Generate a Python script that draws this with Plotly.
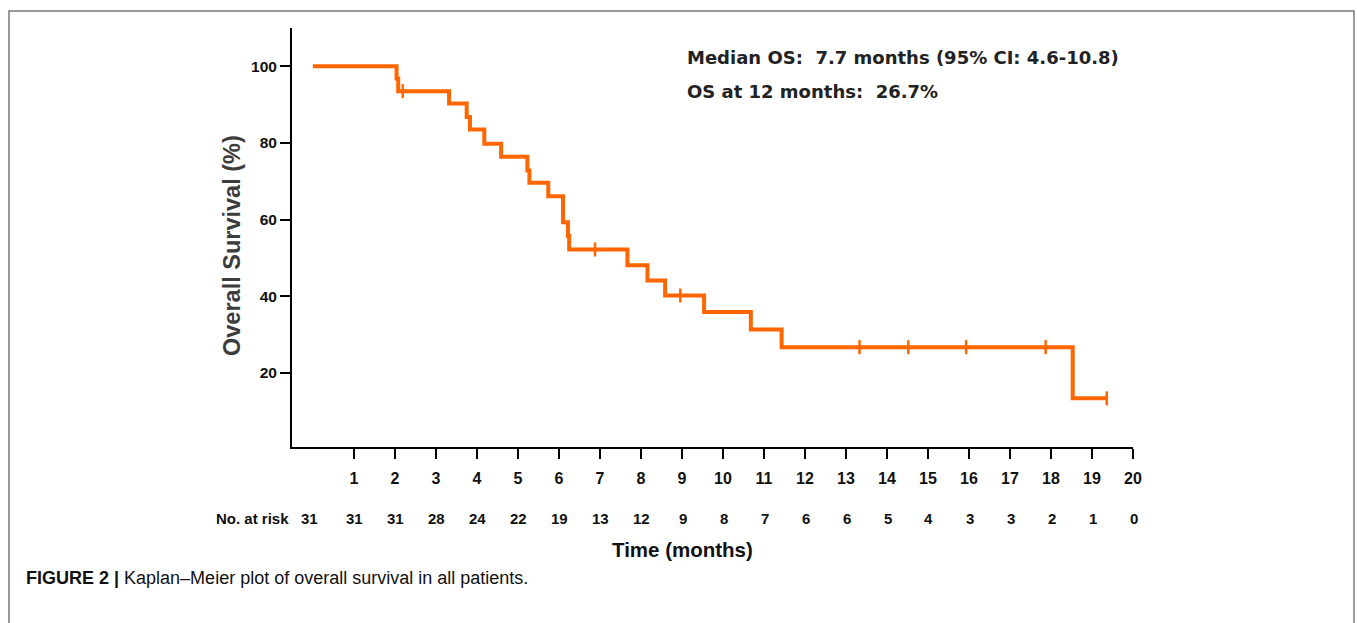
import numpy as np
import plotly.graph_objects as go

# ---- data ----
km_time = [0, 2.04, 2.08, 3.32, 3.75, 3.83, 4.18, 4.59, 5.23, 5.28, 5.74, 6.10, 6.22, 6.25,
           7.67, 8.16, 8.59, 9.54, 10.68, 11.43, 18.53, 19.36]
km_surv = [100, 96.8, 93.5, 90.3, 86.8, 83.5, 79.8, 76.4, 72.8, 69.6, 66.1, 59.3, 55.7, 52.2,
           48.1, 44.1, 40.2, 35.9, 31.3, 26.7, 13.35, 13.35]
censor_time = [2.19, 6.88, 8.96, 13.33, 14.52, 15.93, 17.87, 19.36]

tick_months = list(range(1, 21))
risk_time = list(range(0, 21))
at_risk = [31, 31, 31, 28, 24, 22, 19, 13, 12, 9, 8, 7, 6, 6, 5, 4, 3, 3, 2, 1, 0]
y_ticks = [20, 40, 60, 80, 100]

median_text = "Median OS:  7.7 months (95% CI: 4.6-10.8)"
os12_text = "OS at 12 months:  26.7%"
caption_bold = "FIGURE 2 |"
caption_rest = " Kaplan\u2013Meier plot of overall survival in all patients."

# survival at censor times from the step function
kt = np.array(km_time)
ks = np.array(km_surv)
censor_surv = [float(ks[np.searchsorted(kt, t, side="right") - 1]) for t in censor_time]

ORANGE = "#ff6600"
FONT = "Liberation Sans, Arial, sans-serif"
WIDE = "DejaVu Sans, Liberation Sans, sans-serif"

# ---- layout geometry (pixels) ----
W, H = 1357, 623
L, R, T, B = 292, 1133, 28, 447
pw, ph = R - L, B - T


def px(x):
    return (x - L) / pw


def py(y):
    return (B - y) / ph


fig = go.Figure()
fig.add_trace(go.Scatter(x=km_time, y=km_surv, mode="lines", line=dict(color=ORANGE, width=4, shape="hv"),
                         showlegend=False, hoverinfo="skip"))
fig.add_trace(go.Scatter(x=censor_time, y=censor_surv, mode="markers",
                         marker=dict(symbol="line-ns-open", size=10, color=ORANGE,
                                     line=dict(color=ORANGE, width=2.5)),
                         showlegend=False, hoverinfo="skip"))

annotations = []
annotations.append(dict(text=median_text, x=px(685), y=py(57), xref="paper", yref="paper",
                        xanchor="left", yanchor="middle", showarrow=False,
                        font=dict(family=WIDE, size=18, color="#222222", weight="bold")))
annotations.append(dict(text=os12_text, x=px(685), y=py(92), xref="paper", yref="paper",
                        xanchor="left", yanchor="middle", showarrow=False,
                        font=dict(family=WIDE, size=18, color="#222222", weight="bold")))
# number at risk row
annotations.append(dict(text="No. at risk", x=px(291), y=py(518), xref="paper", yref="paper",
                        xanchor="right", yanchor="middle", showarrow=False,
                        font=dict(family=FONT, size=15, color="#111111", weight="bold")))
for t, n in zip(risk_time, at_risk):
    annotations.append(dict(text=str(n), x=t, y=py(518), xref="x", yref="paper",
                            xanchor="center", yanchor="middle", showarrow=False,
                            xshift=-3 if t == 0 else 1,
                            font=dict(family=FONT, size=15, color="#111111", weight="bold")))
annotations.append(dict(text="Time (months)", x=px(682), y=py(549), xref="paper", yref="paper",
                        xanchor="center", yanchor="middle", showarrow=False,
                        font=dict(family=FONT, size=20.5, color="#111111", weight="bold")))
annotations.append(dict(text="Overall Survival (%)", x=px(232), y=py(246), xref="paper", yref="paper",
                        xanchor="center", yanchor="middle", showarrow=False, textangle=-90,
                        font=dict(family=FONT, size=23.5, color="#3c3c3c", weight="bold")))
annotations.append(dict(text="<b>" + caption_bold + "</b>" + caption_rest, x=px(24), y=py(578),
                        xref="paper", yref="paper", xanchor="left", yanchor="middle", showarrow=False,
                        font=dict(family=FONT, size=18, color="#111111")))
fig.update_layout(annotations=annotations)

# outer frame
fig.add_shape(type="rect", xref="paper", yref="paper", x0=px(9), x1=px(1354), y0=py(640), y1=py(11),
              line=dict(color="#7a7a7a", width=1.5), fillcolor="rgba(0,0,0,0)", layer="below")

fig.update_xaxes(range=[-0.51, 20], tickvals=tick_months, ticktext=[str(v) for v in tick_months],
                 showline=True, linecolor="black", linewidth=2, ticks="outside", ticklen=10, tickwidth=2,
                 tickcolor="black", showgrid=False, zeroline=False, ticklabelstandoff=6,
                 tickfont=dict(family=FONT, size=16, color="#111111", weight="bold"))
fig.update_yaxes(range=[0.65, 110], tickvals=y_ticks, ticktext=[str(v) for v in y_ticks],
                 showline=True, linecolor="black", linewidth=2, ticks="outside", ticklen=10, tickwidth=2,
                 tickcolor="black", showgrid=False, zeroline=False,
                 tickfont=dict(family=FONT, size=15.5, color="#111111", weight="bold"))

fig.update_layout(width=W, height=H, margin=dict(l=L, r=W - R, t=T, b=H - B),
                  paper_bgcolor="white", plot_bgcolor="white", showlegend=False)

fig.write_html("out.html", config={"displayModeBar": False},
               post_script="document.body.style.margin='0';document.body.style.overflow='hidden';")
